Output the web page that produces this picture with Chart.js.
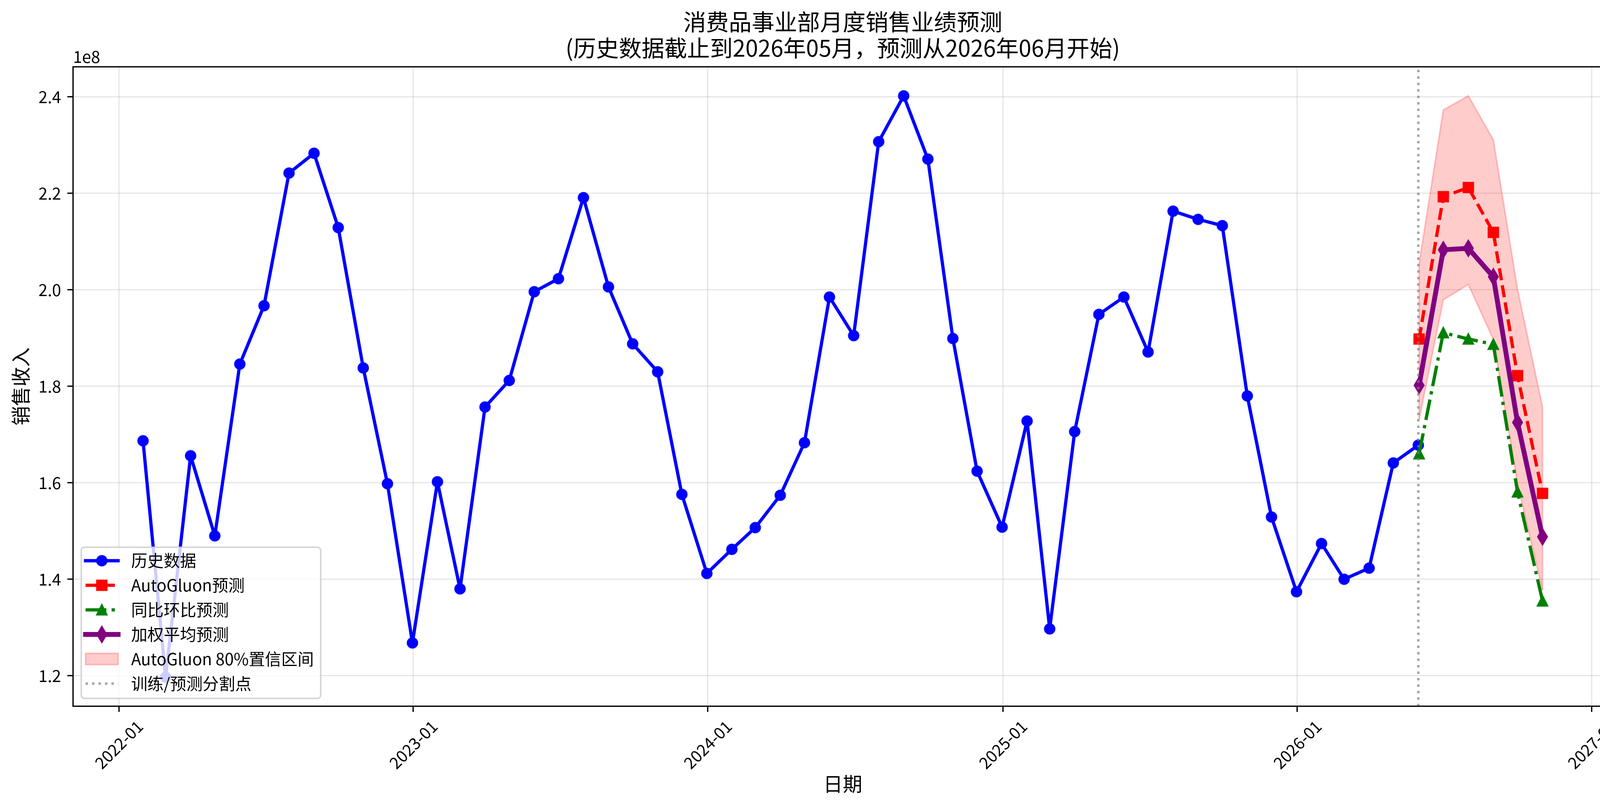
<!DOCTYPE html>
<html>
<head>
<meta charset="utf-8">
<script src="https://cdn.jsdelivr.net/npm/chart.js@4.4.1/dist/chart.umd.min.js"></script>
<style>
  html, body { margin: 0; padding: 0; background: #fff; overflow: hidden; }
  #salesChart { display: block; }
</style>
</head>
<body>
<canvas id="salesChart" width="4161" height="2066"></canvas>
<script>
// history (month-end points), values in units of 1e8
var historyMonths = [
    "2022-01", "2022-02", "2022-03", "2022-04", "2022-05", "2022-06", "2022-07", "2022-08", "2022-09", "2022-10", "2022-11", "2022-12",
    "2023-01", "2023-02", "2023-03", "2023-04", "2023-05", "2023-06", "2023-07", "2023-08", "2023-09", "2023-10", "2023-11", "2023-12",
    "2024-01", "2024-02", "2024-03", "2024-04", "2024-05", "2024-06", "2024-07", "2024-08", "2024-09", "2024-10", "2024-11", "2024-12",
    "2025-01", "2025-02", "2025-03", "2025-04", "2025-05", "2025-06", "2025-07", "2025-08", "2025-09", "2025-10", "2025-11", "2025-12",
    "2026-01", "2026-02", "2026-03", "2026-04", "2026-05"
];
var historyValues = [
    1.687, 1.197, 1.656, 1.490, 1.846, 1.967, 2.242, 2.283, 2.129, 1.838, 1.598, 1.268,
    1.602, 1.380, 1.757, 1.812, 1.996, 2.023, 2.191, 2.006, 1.888, 1.830, 1.576, 1.412,
    1.462, 1.507, 1.574, 1.683, 1.985, 1.905, 2.307, 2.402, 2.271, 1.899, 1.624, 1.508,
    1.728, 1.297, 1.706, 1.949, 1.985, 1.871, 2.163, 2.146, 2.133, 1.780, 1.529, 1.374,
    1.474, 1.400, 1.423, 1.641, 1.678
];

// forecast (month-start points)
var forecastMonths = ["2026-06", "2026-07", "2026-08", "2026-09", "2026-10", "2026-11"];
var autogluonValues = [1.898, 2.193, 2.212, 2.119, 1.822, 1.578];
var yoyMomValues = [1.660, 1.911, 1.898, 1.887, 1.581, 1.355];
var weightedValues = [1.802, 2.083, 2.086, 2.027, 1.725, 1.488];
var ciUpperValues = [2.055, 2.373, 2.402, 2.311, 2.001, 1.757];
var ciLowerValues = [1.731, 1.979, 2.011, 1.897, 1.598, 1.377];

var seriesLabels = ["历史数据", "AutoGluon预测", "同比环比预测", "加权平均预测", "AutoGluon 80%置信区间", "训练/预测分割点"];
var xTickLabels = ["2022-01", "2023-01", "2024-01", "2025-01", "2026-01", "2027-01"];
var yTickValues = [1.2, 1.4, 1.6, 1.8, 2.0, 2.2, 2.4];

var FONT = '"Noto Sans CJK SC", "Noto Sans", sans-serif';
var PT = 300 / 72;  // px per point
var BLUE = "#0000ff", RED = "#ff0000", GREEN = "#008000", PURPLE = "#800080";
var BAND = "rgba(255,0,0,0.2)";
var GRID = "rgba(176,176,176,0.3)";
var SPLIT = "rgba(128,128,128,0.7)";

function monthEnd(s) {
    var p = s.split("-");
    return Date.UTC(+p[0], +p[1], 0);
}
function monthStart(s) {
    var p = s.split("-");
    return Date.UTC(+p[0], +p[1] - 1, 1);
}
function toPoints(months, values, dateFn) {
    return values.map(function (v, i) { return { x: dateFn(months[i]), y: v }; });
}

//matplotlib-like markers as small canvases
function makeMarker(shape, size, color) {
    var edge = 1.0 * PT;
    var ext = shape === "thin_diamond" ? size * 0.7072 : size / 2;
    var dim = Math.ceil(2 * (ext + edge + 6));
    var c = document.createElement("canvas");
    c.width = dim;
    c.height = dim;
    var g = c.getContext("2d");
    g.translate(dim / 2, dim / 2);
    g.beginPath();
    if (shape === "circle") {
        g.arc(0, 0, size / 2, 0, Math.PI * 2);
    } else if (shape === "square") {
        g.rect(-size / 2, -size / 2, size, size);
    } else if (shape === "triangle") {
        g.moveTo(0, -size / 2);
        g.lineTo(-size / 2, size / 2);
        g.lineTo(size / 2, size / 2);
        g.closePath();
    } else {
        g.moveTo(0, -0.7071 * size);
        g.lineTo(0.4243 * size, 0);
        g.lineTo(0, 0.7071 * size);
        g.lineTo(-0.4243 * size, 0);
        g.closePath();
    }
    g.fillStyle = color;
    g.fill();
    g.lineWidth = edge;
    g.lineJoin = "miter";
    g.strokeStyle = color;
    g.stroke();
    return c;
}

var markers = {
    circle: makeMarker("circle", 6 * PT, BLUE),
    square: makeMarker("square", 6 * PT, RED),
    triangle: makeMarker("triangle", 6 * PT, GREEN),
    diamond: makeMarker("thin_diamond", 6.7 * PT, PURPLE)
};

var historyPoints = toPoints(historyMonths, historyValues, monthEnd);
var autogluonPoints = toPoints(forecastMonths, autogluonValues, monthStart);
var yoyPoints = toPoints(forecastMonths, yoyMomValues, monthStart);
var weightedPoints = toPoints(forecastMonths, weightedValues, monthStart);
var upperPoints = toPoints(forecastMonths, ciUpperValues, monthStart);
var lowerPoints = toPoints(forecastMonths, ciLowerValues, monthStart);
var splitDate = monthEnd(historyMonths[historyMonths.length - 1]);

//axis limits with 5% margins like matplotlib autoscale
var allX = historyPoints.concat(autogluonPoints).map(function (p) { return p.x; });
var allY = historyValues.concat(autogluonValues, yoyMomValues, weightedValues, ciUpperValues, ciLowerValues);
var xLo = Math.min.apply(null, allX), xHi = Math.max.apply(null, allX);
var yLo = Math.min.apply(null, allY), yHi = Math.max.apply(null, allY);
var xMin = xLo - 0.05 * (xHi - xLo), xMax = xHi + 0.05 * (xHi - xLo);
var yMin = yLo - 0.05 * (yHi - yLo), yMax = yHi + 0.05 * (yHi - yLo);

var legendRows = [
    { color: BLUE, width: 2 * PT, dash: [], cap: "square", marker: markers.circle },
    { color: RED, width: 2 * PT, dash: [3.7 * 2 * PT, 1.6 * 2 * PT], cap: "butt", marker: markers.square },
    { color: GREEN, width: 2 * PT, dash: [6.4 * 2 * PT, 1.6 * 2 * PT, 1 * 2 * PT, 1.6 * 2 * PT], cap: "butt", marker: markers.triangle },
    { color: PURPLE, width: 3 * PT, dash: [], cap: "square", marker: markers.diamond },
    { patch: true },
    { color: SPLIT, width: 1.5 * PT, dash: [1 * 1.5 * PT, 1.65 * 1.5 * PT], cap: "butt", marker: null }
];

function roundRect(ctx, x, y, w, h, r) {
    ctx.beginPath();
    ctx.moveTo(x + r, y);
    ctx.arcTo(x + w, y, x + w, y + h, r);
    ctx.arcTo(x + w, y + h, x, y + h, r);
    ctx.arcTo(x, y + h, x, y, r);
    ctx.arcTo(x, y, x + w, y, r);
    ctx.closePath();
}

var decorPlugin = {
    id: "decor",
    //close the band outline at both ends, under the forecast lines
    afterDatasetDraw: function (chart, args) {
        if (args.index !== 4) return;
        var ctx = chart.ctx;
        var xs = chart.scales.x, ys = chart.scales.y;
        var ends = [0, forecastMonths.length - 1];
        ctx.save();
        ctx.strokeStyle = BAND;
        ctx.lineWidth = 1.0 * PT;
        ends.forEach(function (i) {
            var px = xs.getPixelForValue(monthStart(forecastMonths[i]));
            ctx.beginPath();
            ctx.moveTo(px, ys.getPixelForValue(ciUpperValues[i]));
            ctx.lineTo(px, ys.getPixelForValue(ciLowerValues[i]));
            ctx.stroke();
        });
        ctx.restore();
    },
    afterDatasetsDraw: function (chart) {
        var ctx = chart.ctx;
        var area = chart.chartArea;
        var xs = chart.scales.x;

        //split line
        var sx = xs.getPixelForValue(splitDate);
        ctx.save();
        ctx.strokeStyle = SPLIT;
        ctx.lineWidth = 1.5 * PT;
        ctx.setLineDash([1 * 1.5 * PT, 1.65 * 1.5 * PT]);
        ctx.beginPath();
        ctx.moveTo(sx, area.bottom);
        ctx.lineTo(sx, area.top);
        ctx.stroke();
        ctx.restore();

        //frame
        ctx.save();
        ctx.strokeStyle = "#000";
        ctx.lineWidth = 0.8 * PT;
        ctx.strokeRect(area.left, area.top, area.right - area.left, area.bottom - area.top);
        ctx.restore();

        //offset text
        ctx.save();
        ctx.fillStyle = "#000";
        ctx.font = (10 * PT) + "px " + FONT;
        ctx.textAlign = "left";
        ctx.textBaseline = "alphabetic";
        ctx.fillText("1e8", area.left, area.top - 10);
        ctx.restore();

        //x tick labels, rotated 45 and centred on the tick
        ctx.save();
        ctx.fillStyle = "#000";
        ctx.font = (10 * PT) + "px " + FONT;
        ctx.textAlign = "center";
        ctx.textBaseline = "middle";
        var topY = area.bottom + 3.5 * PT + 3.5 * PT;
        xs.ticks.forEach(function (t, i) {
            var px = xs.getPixelForValue(t.value);
            var label = xTickLabels[i];
            var w = ctx.measureText(label).width;
            var h = 10 * PT;
            var bh = (w + h) * Math.SQRT1_2;
            ctx.save();
            ctx.translate(px, topY + bh / 2);
            ctx.rotate(-Math.PI / 4);
            ctx.fillText(label, 0, 0);
            ctx.restore();
        });
        ctx.restore();

        //legend, lower left
        var bx = area.left + 21, bw = 613;
        var by = 1401, bh2 = 1788 - 1401;
        ctx.save();
        roundRect(ctx, bx, by, bw, bh2, 8);
        ctx.fillStyle = "rgba(255,255,255,0.8)";
        ctx.fill();
        ctx.lineWidth = 4;
        ctx.strokeStyle = "rgba(204,204,204,0.8)";
        ctx.stroke();

        var hx0 = bx + 11, hx1 = hx0 + 2 * 10 * PT;
        var hxc = (hx0 + hx1) / 2;
        ctx.font = (10 * PT) + "px " + FONT;
        ctx.textAlign = "left";
        ctx.textBaseline = "middle";
        legendRows.forEach(function (row, i) {
            var ry = 1435.5 + i * 62.9;
            if (row.patch) {
                ctx.fillStyle = BAND;
                ctx.fillRect(hx0, ry - 14.5, hx1 - hx0, 29);
                ctx.strokeStyle = BAND;
                ctx.lineWidth = 1.0 * PT;
                ctx.setLineDash([]);
                ctx.strokeRect(hx0, ry - 14.5, hx1 - hx0, 29);
            } else {
                ctx.strokeStyle = row.color;
                ctx.lineWidth = row.width;
                ctx.lineCap = row.cap;
                ctx.setLineDash(row.dash);
                ctx.beginPath();
                ctx.moveTo(hx0, ry);
                ctx.lineTo(hx1, ry);
                ctx.stroke();
                ctx.setLineDash([]);
                if (row.marker) {
                    ctx.drawImage(row.marker, hxc - row.marker.width / 2, ry - row.marker.height / 2);
                }
            }
            ctx.fillStyle = "#000";
            ctx.fillText(seriesLabels[i], hx1 + 0.8 * 10 * PT, ry);
        });
        ctx.restore();
    }
};

var ctx = document.getElementById("salesChart");

var chart = new Chart(ctx, {
    type: "line",
    data: {
        datasets: [
            {
                label: seriesLabels[0],
                data: historyPoints,
                borderColor: BLUE,
                backgroundColor: BLUE,
                borderWidth: 2 * PT,
                borderJoinStyle: "round",
                pointStyle: markers.circle,
                pointRadius: 14,
                fill: false,
                order: 5
            },
            {
                label: seriesLabels[1],
                data: autogluonPoints,
                borderColor: RED,
                backgroundColor: RED,
                borderWidth: 2 * PT,
                borderDash: [3.7 * 2 * PT, 1.6 * 2 * PT],
                borderJoinStyle: "round",
                pointStyle: markers.square,
                pointRadius: 14,
                fill: false,
                order: 4
            },
            {
                label: seriesLabels[2],
                data: yoyPoints,
                borderColor: GREEN,
                backgroundColor: GREEN,
                borderWidth: 2 * PT,
                borderDash: [6.4 * 2 * PT, 1.6 * 2 * PT, 1 * 2 * PT, 1.6 * 2 * PT],
                borderJoinStyle: "round",
                pointStyle: markers.triangle,
                pointRadius: 14,
                fill: false,
                order: 3
            },
            {
                label: seriesLabels[3],
                data: weightedPoints,
                borderColor: PURPLE,
                backgroundColor: PURPLE,
                borderWidth: 3 * PT,
                borderJoinStyle: "round",
                pointStyle: markers.diamond,
                pointRadius: 14,
                fill: false,
                order: 2
            },
            {
                label: seriesLabels[4],
                data: upperPoints,
                borderColor: BAND,
                backgroundColor: BAND,
                borderWidth: 1.0 * PT,
                pointRadius: 0,
                fill: "+1",
                order: 10
            },
            {
                label: seriesLabels[4] + " lower",
                data: lowerPoints,
                borderColor: BAND,
                backgroundColor: BAND,
                borderWidth: 1.0 * PT,
                pointRadius: 0,
                fill: false,
                order: 9
            }
        ]
    },
    options: {
        responsive: false,
        animation: false,
        devicePixelRatio: 1,
        layout: { padding: { left: 0, right: 33, top: 0, bottom: 0 } },
        plugins: {
            legend: { display: false },
            tooltip: { enabled: false },
            title: {
                display: true,
                fullSize: false,
                text: ["消费品事业部月度销售业绩预测", "(历史数据截止到2026年05月，预测从2026年06月开始)"],
                color: "#000",
                font: { family: FONT, size: 14 * PT, weight: "normal", lineHeight: 67 / (14 * PT) },
                padding: { top: 22, bottom: 15 }
            }
        },
        scales: {
            x: {
                type: "linear",
                min: xMin,
                max: xMax,
                afterBuildTicks: function (axis) {
                    axis.ticks = xTickLabels.map(function (l) { return { value: monthStart(l) }; });
                },
                ticks: { display: false },
                grid: {
                    color: GRID,
                    lineWidth: 0.8 * PT,
                    drawTicks: true,
                    tickLength: 3.5 * PT,
                    tickColor: "#000",
                    tickWidth: 0.8 * PT
                },
                border: { display: false },
                title: {
                    display: true,
                    text: "日期",
                    color: "#000",
                    font: { family: FONT, size: 12 * PT, lineHeight: 1.2 },
                    padding: { top: 0, bottom: 29 }
                },
                afterFit: function (scale) { scale.height = 258; }
            },
            y: {
                type: "linear",
                min: yMin,
                max: yMax,
                afterBuildTicks: function (axis) {
                    axis.ticks = yTickValues.map(function (v) { return { value: v }; });
                },
                ticks: {
                    color: "#000",
                    font: { family: FONT, size: 10 * PT },
                    padding: 16,
                    callback: function (v) { return Number(v).toFixed(1); }
                },
                grid: {
                    color: GRID,
                    lineWidth: 0.8 * PT,
                    drawTicks: true,
                    tickLength: 3.5 * PT,
                    tickColor: "#000",
                    tickWidth: 0.8 * PT
                },
                border: { display: false },
                title: {
                    display: true,
                    text: "销售收入",
                    color: "#000",
                    font: { family: FONT, size: 12 * PT, lineHeight: 1.2 },
                    padding: { top: 23, bottom: 0 }
                },
                afterFit: function (scale) { scale.width = 187; }
            }
        }
    },
    plugins: [decorPlugin]
});
</script>
</body>
</html>
